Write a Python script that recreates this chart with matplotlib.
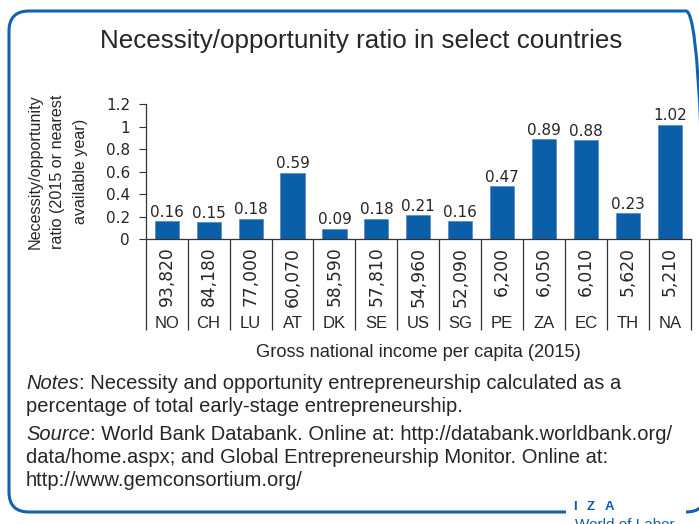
import matplotlib
matplotlib.use('Agg')
import matplotlib.pyplot as plt
import matplotlib.transforms as mtransforms
from matplotlib.patches import FancyBboxPatch, Rectangle

# ---------------- data ----------------
countries = ["NO", "CH", "LU", "AT", "DK", "SE", "US", "SG", "PE", "ZA", "EC", "TH", "NA"]
gni = [93820, 84180, 77000, 60070, 58590, 57810, 54960, 52090, 6200, 6050, 6010, 5620, 5210]
ratio = [0.16, 0.15, 0.18, 0.59, 0.09, 0.18, 0.21, 0.16, 0.47, 0.89, 0.88, 0.23, 1.02]
yticks = [0, 0.2, 0.4, 0.6, 0.8, 1.0, 1.2]
ytick_labels = ["0", "0.2", "0.4", "0.6", "0.8", "1", "1.2"]

title = "Necessity/opportunity ratio in select countries"
ylabel = "Necessity/opportunity\nratio (2015 or nearest\navailable year)"
xlabel = "Gross national income per capita (2015)"
notes_lines = [
    [("Notes", "italic"), (": Necessity and opportunity entrepreneurship calculated as a", "normal")],
    [("percentage of total early-stage entrepreneurship.", "normal")],
]
source_lines = [
    [("Source", "italic"), (": World Bank Databank. Online at: http://databank.worldbank.org/", "normal")],
    [("data/home.aspx; and Global Entrepreneurship Monitor. Online at:", "normal")],
    [("http://www.gemconsortium.org/", "normal")],
]

# ---------------- style ----------------
W, H = 699, 524
BLUE = '#0b5ea8'
BORDER = '#1262ae'
TXT = '#262626'
TEXTFONT = ['Liberation Sans', 'DejaVu Sans']
NUMFONT = ['DejaVu Sans']

fig = plt.figure(figsize=(W / 100, H / 100), dpi=100)
fig.patch.set_facecolor('white')
px = mtransforms.Affine2D().scale(1 / W, 1 / H) + fig.transFigure
renderer = fig.canvas.get_renderer()


def fy(y):
    return H - y


def fit_width(t, width):
    bb = t.get_window_extent(renderer)
    t.set_fontsize(t.get_fontsize() * width / bb.width)


# ---------------- axes ----------------
ax_l, ax_r, ax_t, ax_b = 145.7, 691.0, 104.3, 239.0
ax = fig.add_axes([ax_l / W, 1 - ax_b / H, (ax_r - ax_l) / W, (ax_b - ax_t) / H])
ax_h = ax_b - ax_t


def ay(y):  # pixel y (from top) -> axes fraction
    return (ax_b - y) / ax_h


x = list(range(len(countries)))
ax.bar(x, ratio, width=0.575, color=BLUE, edgecolor='#3d80c2', linewidth=0.4, zorder=2)
ax.set_xlim(-0.5, len(countries) - 0.5)
ax.set_ylim(0, 1.2)
ax.set_yticks(yticks)
ax.set_yticklabels(ytick_labels, fontfamily=NUMFONT, fontsize=11, color=TXT)
ax.tick_params(axis='y', length=5, width=0.8, pad=6.3, color='#333333')
ax.set_xticks([])
for s in ['top', 'right']:
    ax.spines[s].set_visible(False)
for s in ['left', 'bottom']:
    ax.spines[s].set_linewidth(0.9)
    ax.spines[s].set_color('#333333')

blend = mtransforms.blended_transform_factory(ax.transData, ax.transAxes)
for i in range(len(countries) + 1):
    ax.plot([i - 0.5, i - 0.5], [0, ay(330)], transform=blend, color='#333333',
            lw=0.9, clip_on=False, solid_capstyle='butt')

for i, (v, g, c) in enumerate(zip(ratio, gni, countries)):
    ax.annotate(f"{v:.2f}", xy=(i, v), xytext=(0, 4.4), textcoords='offset pixels',
                ha='center', va='baseline', fontfamily=NUMFONT, fontsize=11, color=TXT)
    ax.text(i, ay(246.7), f"{g:,}", transform=blend, rotation=90, ha='center', va='top',
            fontfamily=NUMFONT, fontsize=12.3, color=TXT)
    ax.text(i, ay(328.3), c, transform=blend, ha='center', va='baseline',
            fontfamily=TEXTFONT, fontsize=12, color=TXT)

# ---------------- texts ----------------
t = fig.text(361, fy(48), title, transform=px, ha='center', va='baseline',
             fontsize=18, family=TEXTFONT, color=TXT)
fit_width(t, 522)

# y label: three centred lines, rotated
yl_size = 11.6
for k, line in enumerate(ylabel.split("\n")):
    fig.text(35 + 22.5 * k, fy(171.6), line, transform=px, rotation=90, ha='center',
             va='center', fontsize=yl_size, family=TEXTFONT, color=TXT)

t = fig.text(418, fy(357), xlabel, transform=px, ha='center', va='baseline',
             fontsize=11, family=TEXTFONT, color=TXT)
fit_width(t, 323)


def line_width(parts, size):
    tot = 0
    for s, st in parts:
        tt = fig.text(0, 0, s, transform=px, fontsize=size, family=TEXTFONT, style=st)
        tot += tt.get_window_extent(renderer).width
        tt.remove()
    return tot


def draw_line(x0, y, parts, size):
    cur = x0
    for s, st in parts:
        tt = fig.text(cur, fy(y), s, transform=px, ha='left', va='baseline',
                      fontsize=size, family=TEXTFONT, style=st, color=TXT)
        cur += tt.get_window_extent(renderer).width


note_size = 14 * 599 / line_width(notes_lines[0], 14)
for k, parts in enumerate(notes_lines):
    draw_line(26, 389 + 22.7 * k, parts, note_size)
for k, parts in enumerate(source_lines):
    draw_line(26, 440 + 22.9 * k, parts, note_size)

# ---------------- border and logo ----------------
border = FancyBboxPatch((9, fy(512)), 697, 501, boxstyle="round,pad=0,rounding_size=20",
                        transform=px, fill=False, edgecolor=BORDER, lw=2.2, clip_on=False)
fig.add_artist(border)
gap = Rectangle((566, fy(520)), 120, 14, transform=px, facecolor='white',
                edgecolor='none', clip_on=False, zorder=5)
fig.add_artist(gap)
for ch, xx in zip(["I", "Z", "A"], [573, 587, 605]):
    fig.text(xx, fy(510), ch, transform=px, ha='left', va='baseline', fontsize=9.5,
             fontweight='bold', family=TEXTFONT, color=BLUE, zorder=6)
fig.text(575, fy(529), "World of Labor", transform=px, ha='left', va='baseline',
         fontsize=11, family=TEXTFONT, color=BLUE, zorder=6)

fig.savefig('out.png', dpi=100, facecolor='white')
